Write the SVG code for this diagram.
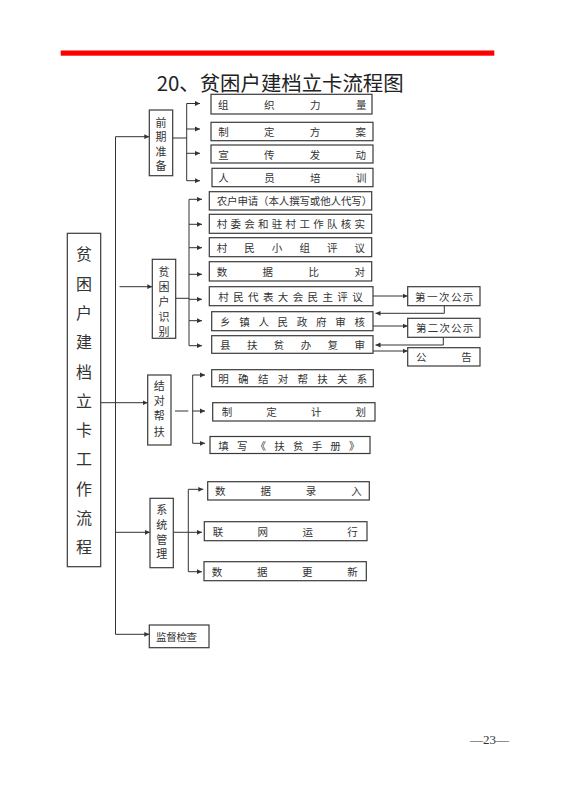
<svg xmlns="http://www.w3.org/2000/svg" width="562" height="795" viewBox="0 0 562 795">
<style>
.bx{fill:#fff;stroke:#3a3a3a;stroke-width:1.2}
.t{font-family:"Noto Sans CJK SC","Liberation Serif",serif;font-size:10.5px;fill:#333;dominant-baseline:central}
.v{font-family:"Noto Sans CJK SC","Liberation Serif",serif;font-size:11px;fill:#333;text-anchor:middle;dominant-baseline:central}
.big{font-family:"Noto Sans CJK SC","Liberation Serif",serif;font-size:16px;fill:#333;text-anchor:middle;dominant-baseline:central}
.ln{fill:none;stroke:#333;stroke-width:1}
.ar{fill:none;stroke:#333;stroke-width:1;marker-end:url(#ah)}
</style>
<defs>
<marker id="ah" markerUnits="userSpaceOnUse" markerWidth="6" markerHeight="6" refX="5" refY="3" orient="auto">
<path d="M0,0.6 L5,3 L0,5.4 z" fill="#333"/>
</marker>
</defs>
<rect width="562" height="795" fill="#fff"/>
<rect x="60.7" y="50.5" width="433.6" height="5.2" fill="#f00"/>
<text x="156.7" y="90.5" font-family="'Noto Sans CJK SC','Liberation Sans',sans-serif" font-size="20.4" fill="#222">20、贫困户建档立卡流程图</text>
<text x="489.6" y="744" font-family="'Liberation Serif',serif" font-size="13" fill="#333" text-anchor="middle">—23—</text>

<g id="connectors">
<path class="ln" d="M115.5 136.7 V634.3"/>
<path class="ar" d="M115.5 136.7 H149.3"/>
<path class="ln" d="M172.7 138 H186.7 M186.7 103.5 V180.7"/>
<path class="ar" d="M186.7 103.5 H200"/>
<path class="ar" d="M186.7 129 H200"/>
<path class="ar" d="M186.7 153.3 H200"/>
<path class="ar" d="M186.7 180.7 H200"/>

<path class="ar" d="M119.5 286.7 H152.3"/>
<path class="ln" d="M175.7 298.3 H189 M189 199.3 V345.7"/>
<path class="ar" d="M189 199.3 H202"/>
<path class="ar" d="M189 224.3 H202"/>
<path class="ar" d="M189 247.7 H202"/>
<path class="ar" d="M189 274.3 H202"/>
<path class="ar" d="M189 299.3 H202"/>
<path class="ar" d="M189 320.7 H202"/>
<path class="ar" d="M189 345.7 H202"/>

<path class="ar" d="M373 296 H407.7"/>
<path class="ar" d="M444.3 305.7 V313.3 H375.5"/>
<path class="ar" d="M373 326 H407.7"/>
<path class="ar" d="M443.3 337.3 V345 H375.5"/>
<path class="ar" d="M373 351 H407.7"/>

<path class="ar" d="M100.7 402.7 H147.7"/>
<path class="ln" d="M175 411 H188.3 M192.7 375 V443.3"/>
<path class="ar" d="M192.7 375 H205"/>
<path class="ar" d="M192.7 411 H205"/>
<path class="ar" d="M192.7 443.3 H205"/>

<path class="ar" d="M115.5 532.3 H150"/>
<path class="ln" d="M173.3 532.3 H188.3 M188.3 489.3 V571.7"/>
<path class="ar" d="M188.3 489.3 H203.3"/>
<path class="ar" d="M188.3 532.3 H202"/>
<path class="ar" d="M188.3 571.7 H202"/>

<path class="ar" d="M115.5 634.3 H149.3"/>
</g>

<g id="n_main">
<rect class="bx" x="67.3" y="233.3" width="33.4" height="333.4"/>
<text class="big" x="84"><tspan x="84" y="253.3">贫</tspan><tspan x="84" y="282.6">困</tspan><tspan x="84" y="311.9">户</tspan><tspan x="84" y="341.2">建</tspan><tspan x="84" y="370.5">档</tspan><tspan x="84" y="399.8">立</tspan><tspan x="84" y="429.1">卡</tspan><tspan x="84" y="458.4">工</tspan><tspan x="84" y="487.7">作</tspan><tspan x="84" y="517">流</tspan><tspan x="84" y="546.3">程</tspan></text>
</g>

<g id="n_qqzb">
<rect class="bx" x="149.3" y="110" width="23.4" height="65.7"/>
<text class="v"><tspan x="161" y="121.5">前</tspan><tspan x="161" y="136">期</tspan><tspan x="161" y="150.5">准</tspan><tspan x="161" y="165">备</tspan></text>
</g>
<g id="n_zzll"><rect class="bx" x="211" y="94.3" width="161" height="19.7"/><text class="t" x="218 264 310 356" y="104.2">组织力量</text></g>
<g id="n_zdfa"><rect class="bx" x="211" y="122.3" width="162" height="18.4"/><text class="t" x="218.3 264 309.7 355.4" y="131.5">制定方案</text></g>
<g id="n_xcfd"><rect class="bx" x="211" y="145" width="162" height="18"/><text class="t" x="218.3 264 309.7 355.4" y="154">宣传发动</text></g>
<g id="n_rypx"><rect class="bx" x="212" y="168.3" width="161" height="18.4"/><text class="t" x="218.3 264.2 310.1 356" y="177.5">人员培训</text></g>

<g id="n_pkhsb">
<rect class="bx" x="152.3" y="259.3" width="23.4" height="79"/>
<text class="v" font-size="10"><tspan x="164" y="271">贫</tspan><tspan x="164" y="286">困</tspan><tspan x="164" y="301">户</tspan><tspan x="164" y="316">识</tspan><tspan x="164" y="331">别</tspan></text>
</g>
<g id="n_nhsq"><rect class="bx" x="209.3" y="191.7" width="162.4" height="18.3"/><text class="t" font-size="10.35" x="216.7 227.05 237.4 247.75 258.1 268.45 278.8 289.15 299.5 309.85 320.2 330.55 340.9 351.25" y="200.8">农户申请（本人撰写或他人代写）</text></g>
<g id="n_cwh"><rect class="bx" x="209.3" y="214.3" width="162.4" height="19"/><text class="t" x="216.7 230.5 244.3 258 271.8 285.6 299.4 313.2 326.9 340.7 354.5" y="223.8">村委会和驻村工作队核实</text></g>
<g id="n_cmxz"><rect class="bx" x="209.3" y="237.7" width="162.4" height="19"/><text class="t" x="216.7 244.3 271.8 299.4 326.9 354.5" y="247.2">村民小组评议</text></g>
<g id="n_sjbd"><rect class="bx" x="209.3" y="261.7" width="162.4" height="19.3"/><text class="t" x="216.7 262.6 308.6 354.5" y="271.3">数据比对</text></g>
<g id="n_cmdb"><rect class="bx" x="209.3" y="286.7" width="163.7" height="19"/><text class="t" x="218.3 233.2 248.1 263 277.8 292.7 307.6 322.5 337.3 352.2" y="296.2">村民代表大会民主评议</text></g>
<g id="n_xzrm"><rect class="bx" x="211.7" y="311.7" width="161.3" height="19"/><text class="t" x="220 239.2 258.4 277.6 296.8 316.1 335.3 354.5" y="321.2">乡镇人民政府审核</text></g>
<g id="n_xfp"><rect class="bx" x="211.7" y="335.7" width="161.3" height="17.6"/><text class="t" x="220 246.9 273.8 300.7 327.6 354.5" y="344.5">县扶贫办复审</text></g>

<g id="n_gs1"><rect class="bx" x="407.7" y="286.7" width="72.3" height="19"/><text class="t" x="415 427 438.9 450.9 462.8" y="296.2">第一次公示</text></g>
<g id="n_gs2"><rect class="bx" x="407.7" y="318.3" width="72.3" height="19"/><text class="t" x="416 427.7 439.4 451.1 462.8" y="327.8">第二次公示</text></g>
<g id="n_gg"><rect class="bx" x="407.7" y="347.7" width="72.3" height="18.3"/><text class="t" x="416 461.2" y="356.8">公告</text></g>

<g id="n_jdbf">
<rect class="bx" x="147.7" y="375" width="23.3" height="70"/>
<text class="v"><tspan x="159.3" y="385">结</tspan><tspan x="159.3" y="400">对</tspan><tspan x="159.3" y="415">帮</tspan><tspan x="159.3" y="430.5">扶</tspan></text>
</g>
<g id="n_mqjd"><rect class="bx" x="211.7" y="369.7" width="161.6" height="17"/><text class="t" x="218.3 238.1 257.9 277.7 297.5 317.2 337 356.8" y="378.2">明确结对帮扶关系</text></g>
<g id="n_zdjh"><rect class="bx" x="212.7" y="402.7" width="162.3" height="18.3"/><text class="t" x="221.7 266.3 310.9 355.5" y="411.8">制定计划</text></g>
<g id="n_txsc"><rect class="bx" x="210" y="436.5" width="160" height="17"/><text class="t" x="218.3 237 255.6 274.3 293 311.7 330.3 349" y="445">填写《扶贫手册》</text></g>

<g id="n_xtgl">
<rect class="bx" x="150" y="498.3" width="23.3" height="69.4"/>
<text class="v"><tspan x="161.7" y="509.3">系</tspan><tspan x="161.7" y="523.8">统</tspan><tspan x="161.7" y="538.5">管</tspan><tspan x="161.7" y="553.3">理</tspan></text>
</g>
<g id="n_sjlr"><rect class="bx" x="207.7" y="481.7" width="161.6" height="18.3"/><text class="t" x="215 260.4 305.8 351.2" y="490.8">数据录入</text></g>
<g id="n_lwyx"><rect class="bx" x="204.3" y="521.7" width="162.7" height="19"/><text class="t" x="212.7 257.5 302.4 347.2" y="531.2">联网运行</text></g>
<g id="n_sjgx"><rect class="bx" x="204" y="561.7" width="162.3" height="19"/><text class="t" x="211.7 256.9 302 347.2" y="571.2">数据更新</text></g>

<g id="n_jdjc"><rect class="bx" x="149.3" y="625" width="59.7" height="22.7"/><text class="t" font-size="10.2" x="156 166.2 176.4 186.6" y="636.3">监督检查</text></g>
</svg>
